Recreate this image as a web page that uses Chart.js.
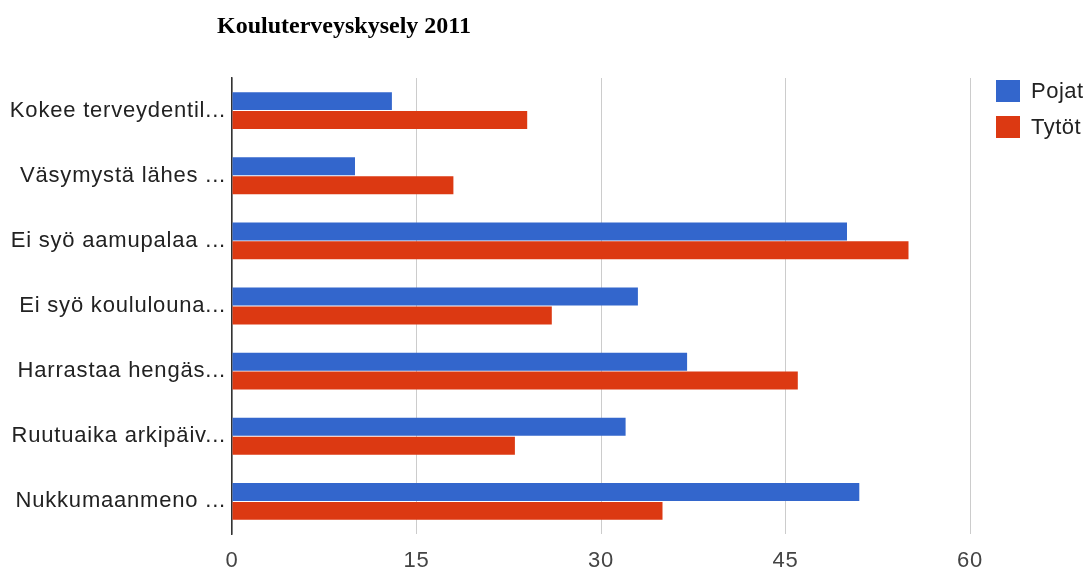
<!DOCTYPE html>
<html>
<head>
<meta charset="utf-8">
<script src="https://cdn.jsdelivr.net/npm/chart.js@4/dist/chart.umd.min.js"></script>
<style>
  html, body { margin: 0; padding: 0; background: #fff; }
  #wrap { width: 1088px; height: 571px; position: relative; }
</style>
</head>
<body>
<div id="wrap"><canvas id="chart"></canvas></div>
<script>
// Chart data
const chartTitle = 'Kouluterveyskysely 2011';
const categories = [
    'Kokee terveydentil...',
    'Väsymystä lähes ...',
    'Ei syö aamupalaa ...',
    'Ei syö koululouna...',
    'Harrastaa hengäs...',
    'Ruutuaika arkipäiv...',
    'Nukkumaanmeno ...'
];
const pojat = [13, 10, 50, 33, 37, 32, 51];
const tytot = [24, 18, 55, 26, 46, 23, 35];
const xTicks = [0, 15, 30, 45, 60];

const sans = '"Liberation Sans", Arial, sans-serif';

// Slightly wider text spacing, like the original
const spacingPlugin = {
    id: 'spacing',
    beforeDraw(chart) {
        chart.ctx.letterSpacing = '0.8px';
    }
};

// Title drawn a bit left of the plot area
const titlePlugin = {
    id: 'leftTitle',
    afterDraw(chart) {
        const ctx = chart.ctx;
        ctx.save();
        ctx.letterSpacing = '0px';
        ctx.font = 'bold 24px "Liberation Serif", serif';
        ctx.fillStyle = '#000';
        ctx.textBaseline = 'middle';
        ctx.textAlign = 'left';
        ctx.fillText(chartTitle, 217, 27);
        ctx.restore();
    }
};

// Legend on the right, one square per dataset
const legendPlugin = {
    id: 'sideLegend',
    afterDraw(chart) {
        const ctx = chart.ctx;
        const x = chart.chartArea.right + 26;
        ctx.save();
        ctx.letterSpacing = '0.5px';
        ctx.font = '22px ' + sans;
        ctx.textBaseline = 'middle';
        chart.data.datasets.forEach((ds, i) => {
            const y = 80 + i * 36;
            ctx.fillStyle = ds.backgroundColor;
            ctx.fillRect(x, y, 24, 22);
            ctx.fillStyle = '#222';
            ctx.fillText(ds.label, x + 35, y + 12);
        });
        ctx.restore();
    }
};

new Chart(document.getElementById('chart'), {
    type: 'bar',
    data: {
        labels: categories,
        datasets: [
            { label: 'Pojat', data: pojat, backgroundColor: '#3366cc' },
            { label: 'Tytöt', data: tytot, backgroundColor: '#dc3912' }
        ]
    },
    options: {
        indexAxis: 'y',
        responsive: true,
        maintainAspectRatio: false,
        animation: false,
        layout: { padding: { top: 78, right: 118, left: 0, bottom: 0 } },
        datasets: { bar: { categoryPercentage: 0.58, barPercentage: 0.95 } },
        plugins: {
            legend: { display: false },
            title: { display: false },
            tooltip: { enabled: false }
        },
        scales: {
            x: {
                min: 0,
                max: 60,
                afterBuildTicks: (scale) => { scale.ticks = xTicks.map(v => ({ value: v })); },
                afterFit: (scale) => { scale.height = 37; },
                ticks: {
                    color: '#444',
                    padding: 14,
                    font: { size: 22, family: sans }
                },
                grid: { color: '#cccccc', lineWidth: 1, drawTicks: false },
                border: { display: false }
            },
            y: {
                afterFit: (scale) => { scale.width = 232; },
                ticks: {
                    color: '#222',
                    padding: 6,
                    font: { size: 22, family: sans }
                },
                grid: { display: false, drawTicks: false },
                border: { color: '#333', width: 1.5 }
            }
        }
    },
    plugins: [spacingPlugin, titlePlugin, legendPlugin]
});
</script>
</body>
</html>
